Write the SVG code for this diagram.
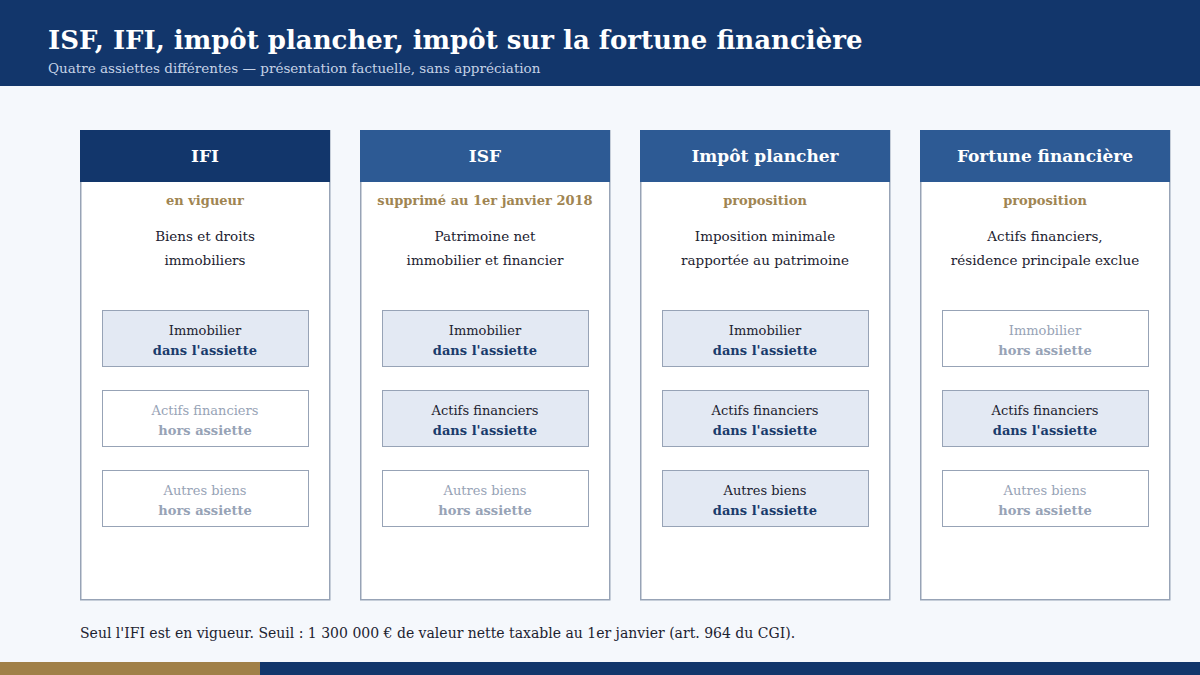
<svg xmlns="http://www.w3.org/2000/svg" width="1200" height="675" viewBox="0 0 1200 675">
<style>
text{font-family:"DejaVu Serif","Liberation Serif",serif;text-anchor:middle}
.card{fill:#fff;stroke:#97a3b6;stroke-width:1.5}
.h{font-size:17px;font-weight:bold;fill:#fff}
.st{font-size:13px;font-weight:bold;fill:#a08552}
.d{font-size:13.5px;fill:#1c2230}
.in{fill:#e3e9f3;stroke:#97a3b6;stroke-width:1}
.out{fill:#fff;stroke:#97a3b6;stroke-width:1}
.t1{font-size:13px;fill:#1c2230}
.t2{font-size:13px;font-weight:bold;fill:#1a3b6b}
.o1{font-size:13px;fill:#97a3b6}
.o2{font-size:13px;font-weight:bold;fill:#97a3b6}
</style>
<rect width="1200" height="675" fill="#f5f8fc"/>
<rect width="1200" height="86" fill="#12366b"/>
<text x="48" y="49" style="text-anchor:start;font-size:26px;font-weight:bold;fill:#fff">ISF, IFI, impôt plancher, impôt sur la fortune financière</text>
<text x="48" y="73" style="text-anchor:start;font-size:13.5px;fill:#c5d2e6">Quatre assiettes différentes — présentation factuelle, sans appréciation</text>

<g id="ifi">
<rect class="card" x="80.75" y="130.75" width="249" height="469"/>
<rect x="80" y="130" width="250" height="52" fill="#12366b"/>
<text class="h" x="205" y="162">IFI</text>
<text class="st" x="205" y="205">en vigueur</text>
<text class="d" x="205" y="241">Biens et droits</text>
<text class="d" x="205" y="265">immobiliers</text>
<rect class="in" x="102.5" y="310.5" width="206" height="56"/>
<text class="t1" x="205" y="335">Immobilier</text><text class="t2" x="205" y="355">dans l'assiette</text>
<rect class="out" x="102.5" y="390.5" width="206" height="56"/>
<text class="o1" x="205" y="415">Actifs financiers</text><text class="o2" x="205" y="435">hors assiette</text>
<rect class="out" x="102.5" y="470.5" width="206" height="56"/>
<text class="o1" x="205" y="495">Autres biens</text><text class="o2" x="205" y="515">hors assiette</text>
</g>

<g id="isf">
<rect class="card" x="360.75" y="130.75" width="249" height="469"/>
<rect x="360" y="130" width="250" height="52" fill="#2d5a94"/>
<text class="h" x="485" y="162">ISF</text>
<text class="st" x="485" y="205">supprimé au 1er janvier 2018</text>
<text class="d" x="485" y="241">Patrimoine net</text>
<text class="d" x="485" y="265">immobilier et financier</text>
<rect class="in" x="382.5" y="310.5" width="206" height="56"/>
<text class="t1" x="485" y="335">Immobilier</text><text class="t2" x="485" y="355">dans l'assiette</text>
<rect class="in" x="382.5" y="390.5" width="206" height="56"/>
<text class="t1" x="485" y="415">Actifs financiers</text><text class="t2" x="485" y="435">dans l'assiette</text>
<rect class="out" x="382.5" y="470.5" width="206" height="56"/>
<text class="o1" x="485" y="495">Autres biens</text><text class="o2" x="485" y="515">hors assiette</text>
</g>

<g id="plancher">
<rect class="card" x="640.75" y="130.75" width="249" height="469"/>
<rect x="640" y="130" width="250" height="52" fill="#2d5a94"/>
<text class="h" x="765" y="162">Impôt plancher</text>
<text class="st" x="765" y="205">proposition</text>
<text class="d" x="765" y="241">Imposition minimale</text>
<text class="d" x="765" y="265">rapportée au patrimoine</text>
<rect class="in" x="662.5" y="310.5" width="206" height="56"/>
<text class="t1" x="765" y="335">Immobilier</text><text class="t2" x="765" y="355">dans l'assiette</text>
<rect class="in" x="662.5" y="390.5" width="206" height="56"/>
<text class="t1" x="765" y="415">Actifs financiers</text><text class="t2" x="765" y="435">dans l'assiette</text>
<rect class="in" x="662.5" y="470.5" width="206" height="56"/>
<text class="t1" x="765" y="495">Autres biens</text><text class="t2" x="765" y="515">dans l'assiette</text>
</g>

<g id="fortune">
<rect class="card" x="920.75" y="130.75" width="249" height="469"/>
<rect x="920" y="130" width="250" height="52" fill="#2d5a94"/>
<text class="h" x="1045" y="162">Fortune financière</text>
<text class="st" x="1045" y="205">proposition</text>
<text class="d" x="1045" y="241">Actifs financiers,</text>
<text class="d" x="1045" y="265">résidence principale exclue</text>
<rect class="out" x="942.5" y="310.5" width="206" height="56"/>
<text class="o1" x="1045" y="335">Immobilier</text><text class="o2" x="1045" y="355">hors assiette</text>
<rect class="in" x="942.5" y="390.5" width="206" height="56"/>
<text class="t1" x="1045" y="415">Actifs financiers</text><text class="t2" x="1045" y="435">dans l'assiette</text>
<rect class="out" x="942.5" y="470.5" width="206" height="56"/>
<text class="o1" x="1045" y="495">Autres biens</text><text class="o2" x="1045" y="515">hors assiette</text>
</g>
<g id="connectors"/>

<text x="80" y="638" style="text-anchor:start;font-size:14px;fill:#1c2230">Seul l'IFI est en vigueur. Seuil : 1 300 000 € de valeur nette taxable au 1er janvier (art. 964 du CGI).</text>
<rect x="0" y="662" width="260" height="13" fill="#a08048"/>
<rect x="260" y="662" width="940" height="13" fill="#12366b"/>
</svg>
